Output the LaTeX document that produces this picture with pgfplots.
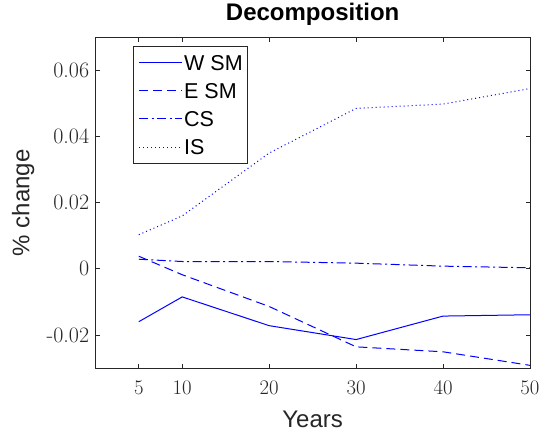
\documentclass[border=0pt]{standalone}
\usepackage{fontspec}
\usepackage{pgfplots}
\pgfplotsset{compat=1.18}
\newfontfamily\helv{Liberation Sans}
\definecolor{axgray}{RGB}{38,38,38}
\definecolor{lineblue}{RGB}{0,0,255}

\begin{document}
\begin{tikzpicture}
\begin{axis}[
  at={(0,0)}, anchor=south west,
  scale only axis, width=434.7pt, height=330.7pt,
  xmin=0, xmax=50, ymin=-0.03, ymax=0.07,
  xtick={5,10,20,30,40,50},
  ytick={-0.02,0,0.02,0.04,0.06},
  yticklabels={-0.02,0,0.02,0.04,0.06},
  scaled y ticks=false,
  tick align=inside,
  major tick length=4.5pt,
  axis line style={axgray, line width=0.8pt},
  tick style={axgray, line width=0.8pt},
  ticklabel style={font=\fontsize{22}{26}\selectfont, text=axgray},
  xticklabel style={anchor=base, yshift=-26pt},
  yticklabel style={anchor=east, inner xsep=0pt, xshift=-6pt},
  title={Decomposition},
  title style={font=\helv\bfseries\fontsize{24}{28}\selectfont,
    at={(axis description cs:0.5,1)}, anchor=base, yshift=10.6pt},
  xlabel={Years},
  xlabel style={font=\helv\fontsize{24}{28}\selectfont, text=axgray,
    at={(axis description cs:0.5,-0.1793)}, anchor=base},
  ylabel={\% change},
  ylabel style={font=\helv\fontsize{24}{28}\selectfont, text=axgray,
    at={(axis description cs:-0.1518,0.5)}, anchor=base},
  legend cell align=left,
  legend image code/.code={\draw[#1] (0pt,0pt) -- (43pt,0pt);},
  legend style={at={(axis description cs:0.0874,0.9746)}, anchor=north west,
    draw=axgray, line width=0.8pt,
    font=\helv\fontsize{21.5}{26}\selectfont,
    inner xsep=5pt, inner ysep=8.7pt, row sep=12.8pt,
    nodes={inner xsep=0pt, inner ysep=0pt, text height=15.4pt, text depth=0pt},
    /tikz/every odd column/.style={column sep=1.5pt}},
]
\addplot[lineblue, line width=1pt] coordinates {
  (5,-0.0160) (10,-0.0085) (20,-0.0172) (30,-0.0214) (40,-0.0143) (50,-0.0139)};
\addlegendentry{W SM}
\addplot[lineblue, line width=1pt, dash pattern=on 9pt off 5pt] coordinates {
  (5,0.0038) (10,-0.0018) (20,-0.0114) (30,-0.0236) (40,-0.0251) (50,-0.0292)};
\addlegendentry{E SM}
\addplot[lineblue, line width=1pt, dash pattern=on 9pt off 3.5pt on 2pt off 3.5pt] coordinates {
  (5,0.0029) (10,0.0022) (20,0.0022) (30,0.0017) (40,0.0008) (50,0.0003)};
\addlegendentry{CS}
\addplot[lineblue, line width=1pt, dash pattern=on 1pt off 3pt] coordinates {
  (5,0.0103) (10,0.0160) (20,0.0350) (30,0.0485) (40,0.0498) (50,0.0545)};
\addlegendentry{IS}
\end{axis}
\pgfresetboundingbox
\path[use as bounding box] (-95.3pt,-66pt) rectangle (450.7pt,368pt);
\end{tikzpicture}
\end{document}
